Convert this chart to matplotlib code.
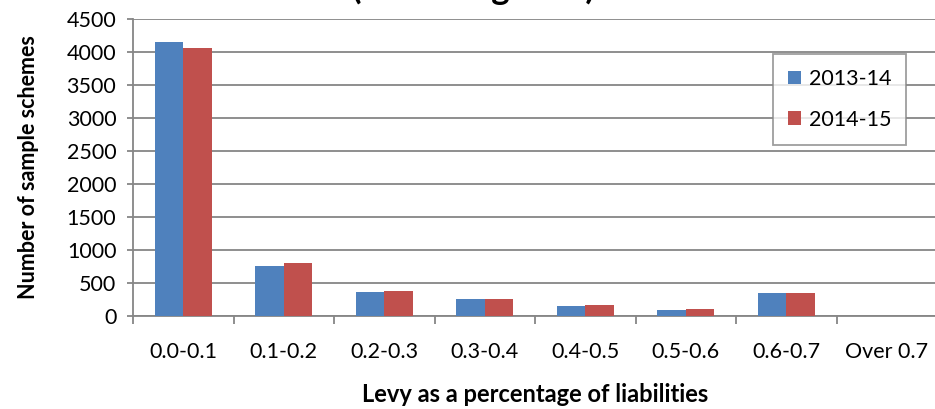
import numpy as np
import matplotlib
matplotlib.use('Agg')
import matplotlib.pyplot as plt
from matplotlib.ticker import FixedLocator

plt.rcParams['font.family'] = ['Lato', 'DejaVu Sans']

categories = ['0.0-0.1', '0.1-0.2', '0.2-0.3', '0.3-0.4', '0.4-0.5', '0.5-0.6', '0.6-0.7', 'Over 0.7']
series_names = ['2013-14', '2014-15']
vals_1314 = [4150, 760, 370, 260, 145, 95, 345, 0]
vals_1415 = [4050, 800, 378, 260, 165, 110, 355, 0]
yticks = [0, 500, 1000, 1500, 2000, 2500, 3000, 3500, 4000, 4500]

blue = '#4f81bd'
red = '#c0504d'
grey = '#868686'

fig = plt.figure(figsize=(9.35, 4.09), dpi=100)
ax = fig.add_axes([133/935, 93/409, 804/935, 297.3/409])

x = np.arange(len(categories))
w = 0.282
ax.bar(x - w/2, vals_1314, w, color=blue, label=series_names[0], zorder=3)
ax.bar(x + w/2, vals_1415, w, color=red, label=series_names[1], zorder=3)

ax.set_xlim(-0.5, len(categories) - 0.5)
ax.set_ylim(0, 4500)
ax.set_yticks(yticks)
ax.set_yticklabels([str(v) for v in yticks], fontsize=15.5)
ax.grid(axis='y', color=grey, linewidth=1.3, zorder=0)
ax.set_xticks(x)
ax.set_xticklabels(categories, fontsize=15.5)
ax.xaxis.set_minor_locator(FixedLocator(np.arange(-0.5, len(categories), 1.0)))
ax.tick_params(axis='x', which='major', length=0, pad=19)
ax.tick_params(axis='x', which='minor', length=6, color=grey, width=1.3, direction='out')
ax.tick_params(axis='y', length=4, color=grey, width=1.3, direction='out', pad=8)

for s in ['top', 'right']:
    ax.spines[s].set_visible(False)
for s in ['left', 'bottom']:
    ax.spines[s].set_color(grey)
    ax.spines[s].set_linewidth(1.3)

ax.set_ylabel('Number of sample schemes', fontsize=15.5, fontweight='bold', labelpad=20)
ax.set_xlabel('Levy as a percentage of liabilities', fontsize=17, fontweight='bold', labelpad=15)

leg = ax.legend(loc='upper left', bbox_to_anchor=((773-133)/804, (316-54)/297.3),
                fontsize=15.5, frameon=True, fancybox=False, edgecolor=grey,
                handlelength=0.6, handleheight=0.6, handletextpad=0.35,
                labelspacing=0.95, borderpad=0.7, borderaxespad=0)
leg.get_frame().set_linewidth(1.3)

# title is mostly cut off at the top of the original image
fig.text(473/935, 1.0 + 1/409, '(excluding zero)', ha='center', va='baseline',
         fontsize=25, fontweight='bold')

fig.savefig('out.png', dpi=100)
